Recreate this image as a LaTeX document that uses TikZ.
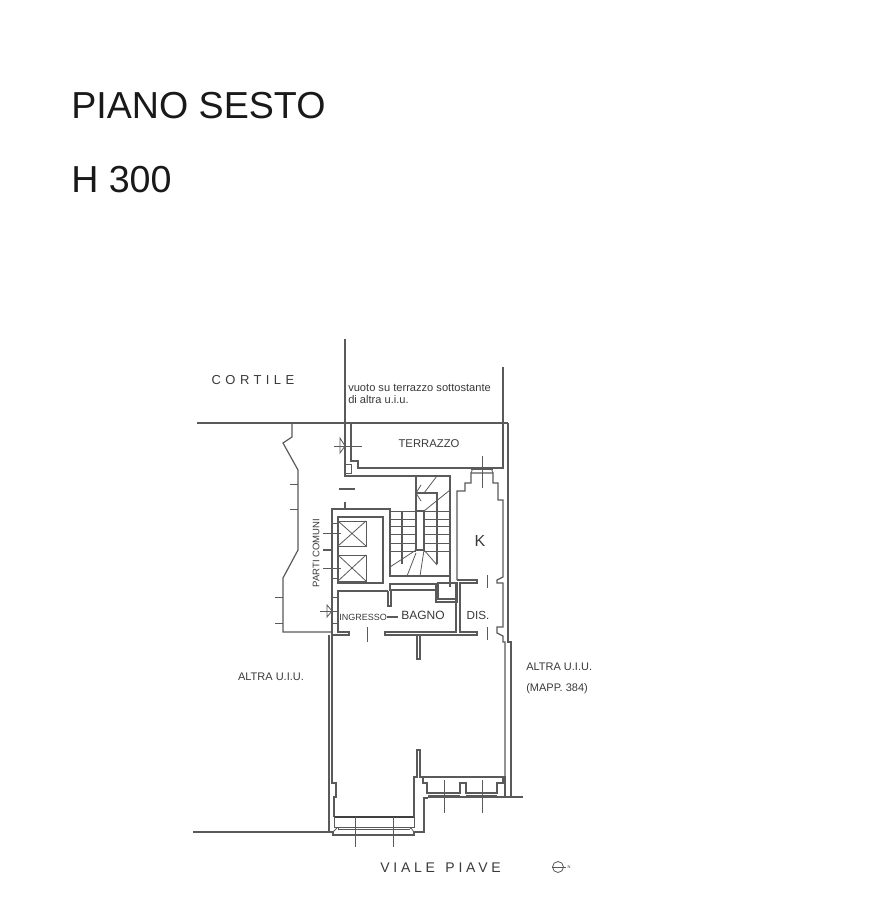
\documentclass[tikz,border=0pt]{standalone}
\usepackage{fontspec}
\setmainfont{Liberation Sans}
\definecolor{wallc}{HTML}{5A5A5A}
\definecolor{textc}{HTML}{3A3A3A}
\newcommand{\fs}[1]{\pgfmathsetmacro\fsz{#1*0.75}\fontsize{\fsz}{\fsz}\selectfont}
\newcommand{\spaced}[2]{\addfontfeature{LetterSpace=#1}#2}
\tikzset{
  wall/.style={draw=wallc,line width=0.9pt,line join=miter},
  fine/.style={draw=wallc,line width=0.6pt},
  heavy/.style={draw=black!75,line width=1pt},
  lab/.style={text=textc,inner sep=0pt,align=left}
}
\begin{document}
\begin{tikzpicture}[x=0.75pt,y=-0.75pt]
\useasboundingbox (0,0) rectangle (878,920);
\fill[white] (0,0) rectangle (878,920);
% titles
\node[anchor=base west,inner sep=0pt,text=black!90] (title) at (71,119) {\fontsize{28.2pt}{30pt}\selectfont PIANO SESTO};
\node[anchor=base west,inner sep=0pt,text=black!90] (hgt) at (71,192) {\fontsize{28.2pt}{30pt}\selectfont H 300};
% courtyard line and boundaries
\draw[wall,line width=1.2pt] (197,423) -- (508,423);
\draw[wall] (345,339) -- (345,476) -- (450,476) -- (450,587);
\draw[wall] (503,367) -- (503,468) -- (358,468) -- (358,461) -- (351,461) -- (351,423);
\draw[fine] (345,464) rectangle (351,473);
\draw[wall] (508,423) -- (508,642) -- (511,642) -- (511,797);
% terrace door
\draw[fine] (334,446) -- (362,446);
\draw[fine] (340,438) -- (345,446) -- (340,453) -- cycle;
% common parts left boundary
\draw[wall] (292,423) -- (292,437) -- (283,443) -- (298,470) -- (298,550) -- (283,578) -- (283,632) -- (332,632);
\foreach \yy in {484,509} \draw[fine] (290,\yy) -- (298,\yy);
\foreach \yy in {597,623} \draw[fine] (275,\yy) -- (283,\yy);
\draw[wall] (339,489) -- (355,489);
\draw[wall,line width=1.2pt] (345,502) -- (345,509);
% lift block
\draw[wall] (388,591) -- (338,591) -- (338,632) -- (349,632) -- (349,635) -- (332,635) -- (332,509) -- (390,509) -- (390,576) -- (450,576);
\draw[wall] (338,517) -- (383,517) -- (383,583) -- (338,583) -- cycle;
\foreach \ya/\yb in {521/546,555/581}{
  \draw[fine] (338,\ya) rectangle (366,\yb);
  \draw[fine] (338,\ya) -- (366,\yb) (338,\yb) -- (366,\ya);
}
\foreach \yy in {523,578} \draw[fine] (332,\yy) -- (338,\yy);
\foreach \yy in {533,568} \draw[fine] (323,\yy) -- (341,\yy);
\draw[wall,line width=1.2pt] (323,550) -- (332,550);
\node[lab,rotate=90] (comuni) at (316,553) {\fs{9.5}PARTI COMUNI};
% stairs
\draw[wall] (416,476) -- (416,511) -- (424,511) -- (424,550) -- (416,550) -- (416,511);
\draw[wall] (416,493) -- (437,493) -- (437,564);
\draw[wall] (402,511) -- (402,564);
\foreach \yy in {511,519,526,534,543,551}{
  \draw[fine] (390,\yy) -- (416,\yy);
  \draw[fine] (424,\yy) -- (450,\yy);
}
\draw[fine] (424,550) -- (437,565) (424,550) -- (420,576) (416,553) -- (407,576) (416,550) -- (390,567);
\draw[fine] (424,511) -- (450,490) (437,476) -- (424,493);
\draw[fine] (421,485) -- (416,493) -- (421,501);
% kitchen outline
\draw[wall] (457,580) -- (457,491) -- (465,491) -- (465,483) -- (471,483) -- (471,473) -- (493,473) -- (493,483) -- (498,483) -- (498,500) -- (503,500) -- (503,577) -- (497,580) -- (497,583) -- (503,583) -- (503,591);
\draw[fine] (471,473) -- (473,468) -- (491,468) -- (493,473);
\draw[fine] (482,456) -- (482,488) (471,469) -- (493,469);
% service rooms
\draw[wall] (390,584) rectangle (436,590);
\draw[wall] (436,590) -- (436,602) -- (457,602) -- (457,583) -- (438,583) -- (438,599) -- (457,599);
\draw[wall] (456,583) -- (456,632) -- (385,632) -- (385,635) -- (477,635) -- (477,632) -- (460,632) -- (460,583) -- (477,583) -- (477,580) -- (457,580);
\draw[wall] (388,591) -- (388,606) -- (391,606) -- (391,591);
\draw[wall] (417,635) -- (417,659) -- (420,659) -- (420,635);
\draw[wall] (387,617) -- (398,617);
\draw[fine] (367,627) -- (367,642);
\draw[fine] (487,575) -- (487,588) (487,627) -- (487,640);
\draw[wall] (503,591) -- (503,627) -- (497,627) -- (497,633) -- (503,636) -- (503,642) -- (505,642) -- (505,777);
% entrance door
\draw[fine] (320,611) -- (338,611);
\draw[fine] (327,605) -- (332,611) -- (327,617) -- cycle;
\foreach \yy in {597,623} \draw[fine] (331,\yy) -- (338,\yy);
% main room walls
\draw[wall] (329,635) -- (329,832);
\draw[wall] (332,635) -- (332,783) -- (336,783) -- (336,797) -- (334,797) -- (334,817);
\draw[wall,line width=1.2pt] (193,832) -- (329,832);
% street window
\draw[heavy] (334,817) -- (414,817);
\draw[fine] (334,817) -- (334,827) -- (338,827) -- (338,829) (414,817) -- (414,827) -- (410,827) -- (410,829);
\draw[fine] (338,827) -- (410,827) (338,829) -- (410,829);
\draw[wall] (329,832) -- (333,832) -- (333,835) -- (414,835) -- (414,832) -- (424,832) -- (424,798) -- (428,798);
\draw[fine] (333,832) -- (337,828) (414,832) -- (411,828);
\foreach \xx in {355,393} \draw[fine] (\xx,817) -- (\xx,847);
% stub and balcony window
\draw[wall] (414,817) -- (414,777) -- (417,777) -- (417,750) -- (420,750) -- (420,777) -- (505,777) -- (505,797);
\draw[wall] (423,777) -- (423,783) -- (427,783) -- (427,793) -- (460,793) -- (460,783) -- (466,783) -- (466,793) -- (497,793) -- (497,783) -- (503,783) -- (503,777);
\draw[wall] (428,797) -- (523,797);
\draw[fine] (428,795) -- (460,795) (466,795) -- (497,795);
\foreach \xx in {444,482} \draw[fine] (\xx,780) -- (\xx,813);
% labels
\node[lab] (cort) at (253,380) {\fs{13}\spaced{34}{CORTILE}};
\node[lab,anchor=north west,font=\fs{11.1}] (vuoto) at (348,384) {vuoto su terrazzo sottostante\\[1pt]di altra u.i.u.};
\node[lab] (terr) at (429,444) {\fs{11.3}TERRAZZO};
\node[lab] (kk) at (480,541) {\fs{16}K};
\node[lab] (ingr) at (363,617) {\fs{9}INGRESSO};
\node[lab] (bagno) at (423,615) {\fs{12}BAGNO};
\node[lab] (dis) at (478,615) {\fs{11.7}DIS.};
\node[lab] (uiu) at (271,677) {\fs{11}ALTRA U.I.U.};
\node[lab,anchor=north west,font=\fs{11}] (uiub) at (526,663) {ALTRA U.I.U.\\[7pt](MAPP. 384)};
\node[lab] (viale) at (440.5,868) {\fs{14}\spaced{27}{VIALE\hspace{2pt} PIAVE}};
% north sign
\draw[fine] (558,867) circle (5.5);
\draw[fine] (552,867) -- (566,867);
\node[lab] (nord) at (569,867) {\fs{4}N};
\end{tikzpicture}
\end{document}
